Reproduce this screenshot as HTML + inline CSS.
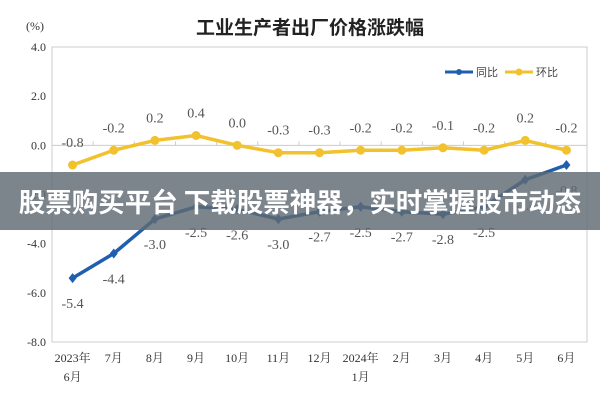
<!DOCTYPE html>
<html><head><meta charset="utf-8"><style>
body{margin:0;background:#fff;}
svg text{font-family:"Liberation Serif","Noto Serif CJK SC",serif;}
</style></head><body>
<svg id="c" width="600" height="400" xmlns="http://www.w3.org/2000/svg">
<text x="310" y="34" text-anchor="middle" font-size="19" font-weight="bold" fill="#222" style="font-family:'Liberation Sans','Noto Sans CJK SC',sans-serif">工业生产者出厂价格涨跌幅</text>
<text x="26" y="30" font-size="12" fill="#333">(%)</text>
<rect x="52" y="47" width="535" height="295" fill="none" stroke="#ccc"/>
<g id="axes"></g>
<g id="series"></g>
<g>
<line x1="445" y1="72" x2="473" y2="72" stroke="#1f5fae" stroke-width="3"/>
<circle cx="459" cy="72" r="3" fill="#1f5fae"/>
<text x="476" y="76" font-size="11" fill="#444" style="font-family:'Liberation Sans','Noto Sans CJK SC',sans-serif">同比</text>
<line x1="505" y1="72" x2="533" y2="72" stroke="#f2c12e" stroke-width="3"/>
<circle cx="519" cy="72" r="3.5" fill="#f2c12e"/>
<text x="536" y="76" font-size="11" fill="#444" style="font-family:'Liberation Sans','Noto Sans CJK SC',sans-serif">环比</text>
</g>
<rect x="0" y="172" width="600" height="58" fill="rgba(95,105,115,0.82)"/>
<text x="300" y="212" text-anchor="middle" font-size="26.5" font-weight="bold" fill="#fff" style="font-family:'Noto Sans CJK SC','WenQuanYi Zen Hei',sans-serif">股票购买平台 下载股票神器，实时掌握股市动态</text>
</svg>
<script>
const categories=["2023年|6月","7月","8月","9月","10月","11月","12月","2024年|1月","2月","3月","4月","5月","6月"];
const yoy=[-5.4,-4.4,-3.0,-2.5,-2.6,-3.0,-2.7,-2.5,-2.7,-2.8,-2.5,-1.4,-0.8];
const mom=[-0.8,-0.2,0.2,0.4,0.0,-0.3,-0.3,-0.2,-0.2,-0.1,-0.2,0.2,-0.2];
const yTicks=[4,2,0,-2,-4,-6,-8];
const NS="http://www.w3.org/2000/svg";
const L=52,R=587,T=47,B=342,ymin=-8,ymax=4;
const band=(R-L)/categories.length;
function xs(i){return L+band*(i+0.5);}
function ys(v){return B-(v-ymin)/(ymax-ymin)*(B-T);}
function mk(tag,attrs,parent){const e=document.createElementNS(NS,tag);for(const k in attrs)e.setAttribute(k,attrs[k]);parent.appendChild(e);return e;}
const ax=document.getElementById('axes'),sg=document.getElementById('series');
yTicks.forEach(t=>{
 const tx=mk('text',{x:46,y:ys(t)+4,'text-anchor':'end','font-size':12,fill:'#333'},ax);
 tx.textContent=t.toFixed(1);
 
 
});
mk('line',{x1:L,x2:R,y1:ys(0),y2:ys(0),stroke:'#ccc'},ax);
categories.forEach((c,i)=>{
 const parts=c.split('|');
 parts.forEach((p,j)=>{
  const tx=mk('text',{x:xs(i),y:362+j*19,'text-anchor':'middle','font-size':12,fill:'#333'},ax);
  tx.textContent=p;
  
  
 });
 if(i>0){mk('line',{x1:L+band*i,x2:L+band*i,y1:ys(0),y2:ys(0)-4,stroke:'#ccc'},ax);}
});
function drawSeries(vals,color,name,above,marker){
 const pts=vals.map((v,i)=>xs(i)+','+ys(v)).join(' ');
 const pl=mk('polyline',{points:pts,fill:'none',stroke:color,'stroke-width':3.5,'stroke-linejoin':'round'},sg);
 
 
 vals.forEach((v,i)=>{
  let m;
  if(marker==='circle'){m=mk('circle',{cx:xs(i),cy:ys(v),r:4.5,fill:color},sg);}
  else{const x=xs(i),y=ys(v);m=mk('polygon',{points:`${x},${y-5} ${x+4},${y} ${x},${y+5} ${x-4},${y}`,fill:color},sg);}
  
  
  const tx=mk('text',{x:xs(i),y:above?ys(v)-18:ys(v)+30,'text-anchor':'middle','font-size':14,fill:'#555'},sg);
  tx.textContent=v.toFixed(1);
  
  
 });
}
drawSeries(yoy,'#1f5fae','yoy',false,'diamond');
drawSeries(mom,'#f2c12e','mom',true,'circle');
</script>
</body></html>
